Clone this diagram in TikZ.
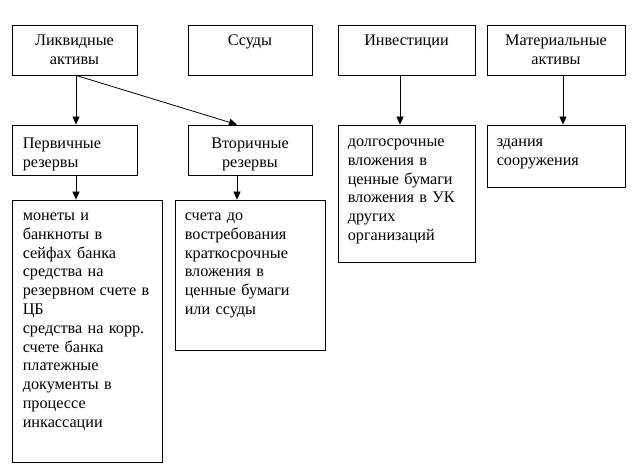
\documentclass[tikz,border=0pt]{standalone}
\usepackage{fontspec}
\setmainfont{Liberation Serif}
\usetikzlibrary{arrows.meta}

\begin{document}
\begin{tikzpicture}[
      x=1pt, y=-1pt,
      font=\fontsize{16.2}{18.8}\selectfont,
      box/.style={draw, line width=0.8pt, inner sep=0pt},
      head/.style={anchor=base, inner sep=0pt, align=center},
      body/.style={anchor=base west, inner sep=0pt, align=left},
      arr/.style={-{Triangle[length=8pt,width=7pt]}, line width=0.8pt}]
      \useasboundingbox (0,0) rectangle (638,476);
      \node[box, minimum width=125, minimum height=50] (liq) at (74.5,50) {};
      \node[box, minimum width=124, minimum height=50] (loan) at (250,50) {};
      \node[box, minimum width=137, minimum height=50] (inv) at (406.5,50) {};
      \node[box, minimum width=138, minimum height=50] (mat) at (556,50) {};
      \node[box, minimum width=125, minimum height=50] (prim) at (74.5,150) {};
      \node[box, minimum width=124, minimum height=50] (sec) at (250,150) {};
      \node[box, minimum width=137, minimum height=137] (long) at (406.5,193.5) {};
      \node[box, minimum width=138, minimum height=62] (build) at (556,156) {};
      \node[box, minimum width=150, minimum height=262] (cash) at (87,331) {};
      \node[box, minimum width=150, minimum height=150] (acc) at (250,275) {};
      \node[head, text width=115] (liqt) at ([yshift=-21pt]liq.north)
        {Ликвидные\\активы};
      \node[head, text width=114] (loant) at ([yshift=-21pt]loan.north)
        {Ссуды};
      \node[head, text width=127] (invt) at ([yshift=-21pt]inv.north)
        {Инвестиции};
      \node[head, text width=128] (matt) at ([yshift=-21pt]mat.north)
        {Материальные\\активы};
      \node[body, text width=110] (primt) at ([xshift=11pt,yshift=-24pt]prim.north west)
        {Первичные\\резервы};
      \node[head, text width=114] (sect) at ([yshift=-24pt]sec.north)
        {Вторичные\\резервы};
      \node[body, text width=127] (longt) at ([xshift=10pt,yshift=-22pt]long.north west)
        {долгосрочные\\вложения в\\ценные бумаги\\вложения в УК\\других\\организаций};
      \node[body, text width=128] (buildt) at ([xshift=10pt,yshift=-22pt]build.north west)
        {здания\\сооружения};
      \node[body, text width=139] (casht) at ([xshift=11pt,yshift=-21pt]cash.north west)
        {монеты и\\банкноты в\\сейфах банка\\средства на\\резервном счете в\\ЦБ\\средства на корр.\\счете банка\\платежные\\документы в\\процессе\\инкассации};
      \node[body, text width=140] (acct) at ([xshift=10pt,yshift=-21pt]acc.north west)
        {счета до\\востребования\\краткосрочные\\вложения в\\ценные бумаги\\или ссуды};
      \draw[arr] ([xshift=1.5pt]liq.south) -- ([xshift=1.5pt]prim.north);
      \draw[arr] ([xshift=1.5pt]liq.south) -- ([xshift=-13pt]sec.north);
      \draw[arr] ([xshift=-6.5pt]inv.south) -- ([xshift=-6.5pt]long.north);
      \draw[arr] ([xshift=7pt]mat.south) -- ([xshift=7pt]build.north);
      \draw[arr] ([xshift=1.5pt]prim.south) -- ([xshift=-11pt]cash.north);
      \draw[arr] ([xshift=-13pt]sec.south) -- ([xshift=-13pt]acc.north);
    \end{tikzpicture}
\end{document}
